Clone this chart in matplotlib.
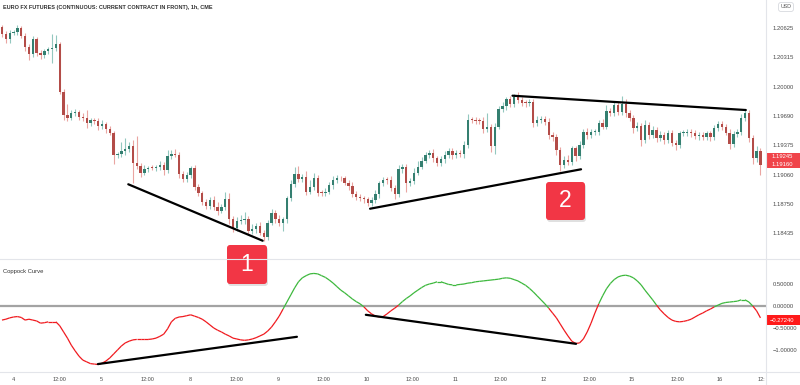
import numpy as np
import matplotlib.pyplot as plt
from matplotlib.patches import FancyBboxPatch, Rectangle
from matplotlib.collections import LineCollection
from matplotlib.lines import Line2D

plt.rcParams['font.family'] = ['Liberation Sans', 'DejaVu Sans']

# ---- data --------------------------------------------------------------
title = 'EURO FX FUTURES (CONTINUOUS: CURRENT CONTRACT IN FRONT), 1h, CME'

first_open = 1.20639
closes = [
    1.20558, 1.20507, 1.20568, 1.20585, 1.20628, 1.20543, 1.20419, 1.20344, 1.20507, 1.20355,
    1.20337, 1.20379, 1.20397, 1.20415, 1.20454, 1.19945, 1.19696, 1.19667, 1.19714, 1.19731,
    1.19678, 1.19667, 1.19607, 1.19639, 1.19635, 1.19578, 1.19600, 1.19546, 1.19507, 1.19269,
    1.19276, 1.19311, 1.19329, 1.19365, 1.19186, 1.19154, 1.19080, 1.19119, 1.19133, 1.19130,
    1.19137, 1.19162, 1.19108, 1.19261, 1.19276, 1.19274, 1.19062, 1.19012, 1.19055, 1.19133,
    1.18930, 1.18860, 1.18770, 1.18727, 1.18788, 1.18716, 1.18674, 1.18718, 1.18795, 1.18582,
    1.18486, 1.18567, 1.18574, 1.18585, 1.18460, 1.18475, 1.18510, 1.18439, 1.18390, 1.18546,
    1.18652, 1.18582, 1.18539, 1.18580, 1.18806, 1.18959, 1.19062, 1.19009, 1.19037, 1.18877,
    1.18924, 1.19020, 1.18866, 1.18860, 1.18877, 1.18948, 1.19002, 1.19020, 1.19018, 1.18973,
    1.18938, 1.18852, 1.18817, 1.18809, 1.18795, 1.18759, 1.18788, 1.18852, 1.18966, 1.19002,
    1.19000, 1.18913, 1.18852, 1.19116, 1.19137, 1.18966, 1.18994, 1.19080, 1.19144, 1.19208,
    1.19269, 1.19293, 1.19233, 1.19186, 1.19223, 1.19269, 1.19315, 1.19265, 1.19287, 1.19279,
    1.19375, 1.19642, 1.19640, 1.19635, 1.19633, 1.19543, 1.19571, 1.19365, 1.19571, 1.19757,
    1.19792, 1.19863, 1.19813, 1.19891, 1.19856, 1.19827, 1.19821, 1.19838, 1.19607, 1.19642,
    1.19650, 1.19624, 1.19482, 1.19458, 1.19322, 1.19162, 1.19215, 1.19197, 1.19340, 1.19258,
    1.19375, 1.19517, 1.19482, 1.19515, 1.19518, 1.19607, 1.19571, 1.19739, 1.19720, 1.19803,
    1.19731, 1.19813, 1.19717, 1.19664, 1.19557, 1.19578, 1.19429, 1.19589, 1.19482, 1.19536,
    1.19447, 1.19482, 1.19429, 1.19507, 1.19394, 1.19375, 1.19500, 1.19505, 1.19517, 1.19500,
    1.19472, 1.19480, 1.19458, 1.19500, 1.19458, 1.19554, 1.19600, 1.19571, 1.19507, 1.19386,
    1.19493, 1.19517, 1.19667, 1.19714, 1.19447, 1.19233, 1.19315, 1.19160,
]
# wick lengths above / below the body, in pips
upper_wick = [
    2, 3, 4, 2, 3, 2, 3, 4, 3, 2, 3, 2, 3, 15, 10, 2, 3, 12, 4, 3,
    2, 4, 8, 3, 2, 3, 4, 2, 3, 2, 3, 10, 12, 4, 6, 29, 3, 4, 2, 3,
    3, 4, 3, 6, 5, 6, 3, 4, 3, 2, 3, 3, 2, 3, 3, 4, 5, 3, 8, 7,
    3, 4, 5, 8, 3, 6, 3, 4, 3, 3, 4, 3, 5, 3, 3, 4, 8, 9, 3, 6,
    8, 6, 3, 3, 4, 3, 4, 3, 2, 3, 3, 4, 3, 3, 2, 3, 3, 4, 3, 3,
    3, 4, 3, 5, 4, 4, 3, 5, 6, 4, 3, 3, 4, 3, 3, 4, 3, 3, 3, 4,
    4, 6, 3, 3, 3, 4, 15, 3, 4, 3, 4, 3, 4, 3, 5, 3, 3, 3, 3, 4,
    3, 3, 4, 3, 3, 3, 4, 5, 3, 3, 4, 3, 4, 3, 3, 4, 5, 6, 3, 4,
    3, 9, 5, 3, 3, 4, 3, 5, 3, 4, 3, 4, 3, 3, 3, 4, 3, 3, 3, 3,
    4, 3, 3, 3, 3, 4, 3, 3, 3, 4, 3, 3, 4, 3, 4, 3, 5, 3,
]
lower_wick = [
    3, 4, 4, 2, 3, 3, 4, 6, 3, 3, 4, 3, 3, 15, 4, 3, 5, 3, 2, 3,
    4, 3, 5, 3, 3, 4, 3, 4, 3, 10, 3, 3, 4, 3, 22, 4, 5, 3, 3, 2,
    3, 3, 5, 3, 3, 3, 4, 3, 3, 3, 4, 3, 4, 3, 3, 4, 5, 3, 4, 5,
    4, 3, 3, 4, 3, 3, 4, 3, 4, 3, 3, 4, 3, 8, 4, 3, 3, 3, 3, 4,
    3, 3, 4, 3, 3, 3, 4, 3, 3, 3, 4, 3, 3, 3, 4, 3, 3, 3, 4, 3,
    4, 3, 5, 3, 4, 9, 3, 4, 3, 3, 3, 3, 4, 3, 3, 4, 3, 4, 3, 3,
    4, 3, 3, 3, 3, 4, 3, 6, 9, 3, 3, 4, 3, 3, 3, 3, 4, 3, 4, 3,
    3, 3, 4, 4, 5, 6, 3, 4, 3, 5, 3, 3, 4, 3, 3, 4, 3, 3, 4, 3,
    3, 3, 4, 3, 5, 3, 6, 3, 4, 3, 4, 3, 4, 3, 3, 5, 3, 3, 3, 4,
    3, 4, 3, 3, 4, 3, 3, 4, 3, 5, 3, 3, 3, 3, 4, 6, 4, 10,
]
coppock = [
    -0.32, -0.30, -0.27, -0.25, -0.24, -0.26, -0.32, -0.30, -0.32, -0.34,
    -0.39, -0.38, -0.36, -0.36, -0.36, -0.45, -0.59, -0.73, -0.89, -1.02,
    -1.14, -1.23, -1.27, -1.31, -1.32, -1.33, -1.30, -1.25, -1.18, -1.09,
    -1.00, -0.91, -0.84, -0.80, -0.77, -0.76, -0.76, -0.76, -0.76, -0.75,
    -0.73, -0.69, -0.64, -0.52, -0.36, -0.28, -0.25, -0.24, -0.22, -0.20,
    -0.23, -0.26, -0.30, -0.36, -0.43, -0.50, -0.55, -0.59, -0.64, -0.68,
    -0.73, -0.75, -0.77, -0.78, -0.77, -0.75, -0.72, -0.68, -0.64, -0.57,
    -0.48, -0.36, -0.23, -0.07, 0.09, 0.25, 0.41, 0.55, 0.64, 0.69,
    0.73, 0.74, 0.73, 0.69, 0.65, 0.59, 0.52, 0.44, 0.36, 0.30,
    0.23, 0.16, 0.10, 0.05, -0.02, -0.11, -0.18, -0.23, -0.25, -0.24,
    -0.18, -0.11, -0.05, 0.02, 0.10, 0.17, 0.23, 0.30, 0.36, 0.42,
    0.47, 0.50, 0.52, 0.55, 0.55, 0.52, 0.49, 0.48, 0.48, 0.49,
    0.50, 0.52, 0.53, 0.55, 0.56, 0.57, 0.58, 0.59, 0.60, 0.61,
    0.63, 0.64, 0.63, 0.60, 0.57, 0.52, 0.47, 0.40, 0.32, 0.23,
    0.14, 0.05, -0.05, -0.16, -0.27, -0.41, -0.55, -0.68, -0.80, -0.85,
    -0.84, -0.75, -0.59, -0.39, -0.16, 0.05, 0.23, 0.39, 0.51, 0.60,
    0.66, 0.69, 0.70, 0.68, 0.64, 0.57, 0.48, 0.36, 0.25, 0.14,
    0.02, -0.09, -0.18, -0.26, -0.32, -0.35, -0.36, -0.35, -0.33, -0.30,
    -0.25, -0.20, -0.16, -0.11, -0.07, -0.02, 0.02, 0.06, 0.08, 0.09,
    0.10, 0.11, 0.14, 0.14, 0.09, 0.00, -0.11, -0.27,
]

time_ticks = [2.9, 14.9, 25.8, 37.7, 48.8, 60.8, 71.8, 83.6, 94.7, 106.7,
              117.7, 129.5, 140.6, 152.6, 163.6, 175.4, 186.5, 197.3]
time_labels = ['4', '12:00', '5', '12:00', '8', '12:00', '9', '12:00', '10', '12:00',
               '11', '12:00', '12', '12:00', '15', '12:00', '16', '12:']
price_ticks = [1.20625, 1.20315, 1.20000, 1.19690, 1.19375, 1.19060, 1.18750, 1.18435]
cop_ticks = [0.5, 0.0, -0.5, -1.0]
cop_labels = ['0.50000', '0.00000', '\u22120.50000', '\u22121.00000']

# trend lines drawn on the chart (bar index, value)
price_lines = [([32.8, 67.7], [1.18956, 1.18353]),
               ([95.6, 150.4], [1.18695, 1.19116]),
               ([132.6, 193.2], [1.19902, 1.19749])]
cop_lines = [([24.9, 76.6], [-1.32, -0.70]),
             ([94.5, 149.1], [-0.20, -0.86])]

# ---- figure -------------------------------------------------------------
W, H = 800, 385
fig = plt.figure(figsize=(8, 3.85), dpi=100)
fx = lambda px: px / W
fy = lambda py: 1 - py / H

ax1 = fig.add_axes([0, fy(259), fx(766), 259 / H])
ax2 = fig.add_axes([0, fy(372), fx(766), (372 - 259) / H])

n = len(closes)
idx = np.arange(n)
c = np.array(closes)
o = np.array([first_open] + closes[:-1])
hi = np.maximum(o, c) + np.array(upper_wick) * 1e-4
lo = np.minimum(o, c) - np.array(lower_wick) * 1e-4
up = c >= o

body_col = np.where(up, '#347f70', '#b34c48')
wick_col = np.where(up, '#93c8bf', '#eaa5a2')
ax1.vlines(idx, lo, hi, colors=wick_col, linewidth=0.8, zorder=2)
ax1.bar(idx, np.maximum(np.abs(c - o), 0.00009), bottom=np.minimum(o, c),
        width=0.62, color=body_col, linewidth=0, zorder=3)

for xs, ys in price_lines:
    ax1.plot(xs, ys, color='black', lw=1.6, solid_capstyle='round', zorder=4)

ax1.set_xlim(-0.52, 198.44)
ax1.set_ylim(1.18158, 1.20924)
ax1.set_xticks([])
ax1.yaxis.tick_right()
ax1.set_yticks(price_ticks)
ax1.set_yticklabels(['%.5f' % p for p in price_ticks])

# coppock pane
cop = np.array(coppock)
pts = np.column_stack([idx, cop])
segs = np.stack([pts[:-1], pts[1:]], axis=1)
mid = (cop[:-1] + cop[1:]) / 2
lc = LineCollection(segs, colors=np.where(mid >= 0, '#3db83d', '#f01a1f'),
                    linewidths=0.9, zorder=3)
ax2.axhline(0, color='#a3a3a3', lw=1.6, zorder=1)
ax2.add_collection(lc)
for xs, ys in cop_lines:
    ax2.plot(xs, ys, color='black', lw=1.6, solid_capstyle='round', zorder=4)

ax2.set_xlim(-0.52, 198.44)
ax2.set_ylim(-1.5, 1.068)
ax2.yaxis.tick_right()
ax2.set_yticks(cop_ticks)
ax2.set_yticklabels(cop_labels)
ax2.set_xticks(time_ticks)
ax2.set_xticklabels(time_labels)

for ax in (ax1, ax2):
    for s in ax.spines.values():
        s.set_visible(False)
    ax.tick_params(axis='y', length=0, pad=5, labelsize=4.2, labelcolor='#4a4a4a')
    ax.tick_params(axis='x', length=0, pad=3.5, labelsize=4.0, labelcolor='#4a4a4a')
    ax.set_facecolor('none')

# separators
for y in (259, 372):
    fig.add_artist(Line2D([0, 1], [fy(y), fy(y)], color='#e3e5ea', lw=0.8))
fig.add_artist(Line2D([fx(766), fx(766)], [0, 1], color='#e3e5ea', lw=0.8))

# texts
fig.text(fx(3), fy(7), title, fontsize=4.0, weight='bold', color='#333333', va='center')
fig.text(fx(3), fy(271), 'Coppock Curve', fontsize=4.2, color='#333333', va='center')
fig.text(fx(786), fy(7), 'USD', fontsize=3.8, color='#555555', ha='center', va='center',
         bbox=dict(boxstyle='round,pad=0.35', fc='white', ec='#cfd2d8', lw=0.5))

# price tags on the scale
tr = fig.dpi_scale_trans
fig.add_artist(Rectangle((7.66, (H - 168) / 100), 0.34, 0.15, transform=tr,
                         fc='#f0444a', ec='none'))
fig.text(fx(772), fy(156.5), '1.19245', fontsize=4.2, color='white', va='center')
fig.text(fx(772), fy(164.5), '1.19160', fontsize=4.2, color='white', va='center')
fig.add_artist(Rectangle((7.66, (H - 325) / 100), 0.34, 0.10, transform=tr,
                         fc='#ff1a1a', ec='none'))
fig.text(fx(770), fy(320), '\u22120.27240', fontsize=4.2, color='white', va='center')

# numbered markers
for label, (x0, y0, x1, y1) in [('1', (227, 245, 267, 284)), ('2', (546, 182, 585, 220))]:
    w, h = (x1 - x0) / 100, (y1 - y0) / 100
    sh = FancyBboxPatch((x0 / 100 + 0.01, (H - y1) / 100 - 0.02), w, h,
                        boxstyle='round,pad=0,rounding_size=0.03', transform=tr,
                        fc='black', ec='none', alpha=0.12)
    bx = FancyBboxPatch((x0 / 100, (H - y1) / 100), w, h,
                        boxstyle='round,pad=0,rounding_size=0.03', transform=tr,
                        fc='#f23645', ec='none')
    fig.add_artist(sh)
    fig.add_artist(bx)
    fig.text(fx((x0 + x1) / 2), fy((y0 + y1) / 2), label, fontsize=16.5,
             color='white', ha='center', va='center')

fig.savefig('out.png', dpi=100, facecolor='white')
